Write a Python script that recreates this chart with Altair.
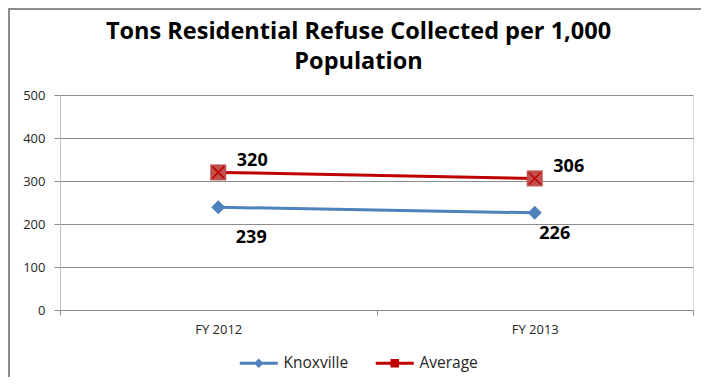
import altair as alt
import pandas as pd

categories = ["FY 2012", "FY 2013"]
knoxville = [239, 226]
average = [320, 306]
series_names = ["Knoxville", "Average"]
y_ticks = [0, 100, 200, 300, 400, 500]

rows = []
for i, c in enumerate(categories):
    rows.append({"year": c, "series": "Knoxville", "value": knoxville[i], "label": str(knoxville[i])})
    rows.append({"year": c, "series": "Average", "value": average[i], "label": str(average[i])})
df = pd.DataFrame(rows)

FONT = "Open Sans"
BLUE = "#4F81BD"
RED_LINE = "#C00000"
RED_FILL = "#C0504D"
GRID = "#8C8C8C"

x_enc = alt.X(
    "year:N", sort=categories, title=None,
    scale=alt.Scale(type="band", paddingInner=0, paddingOuter=0),
    axis=alt.Axis(tickBand="extent", labelFont=FONT, labelFontSize=13, labelColor="#262626",
                  labelPadding=8, domainColor=GRID, tickColor=GRID, tickSize=5, labelAngle=0),
)
y_enc = alt.Y(
    "value:Q", title=None,
    scale=alt.Scale(domain=[0, 500], nice=False),
    axis=alt.Axis(values=y_ticks, grid=True, gridColor=GRID, gridWidth=1, tickColor=GRID, tickSize=6,
                  domainColor="#BFBFBF", labelFont=FONT, labelFontSize=13, labelColor="#262626",
                  labelPadding=9),
)

base = alt.Chart(df)
knox = base.transform_filter(alt.datum.series == "Knoxville")
avg = base.transform_filter(alt.datum.series == "Average")

knox_line = knox.mark_line(color=BLUE, strokeWidth=3).encode(x=x_enc, y=y_enc)
avg_line = avg.mark_line(color=RED_LINE, strokeWidth=3).encode(x=x_enc, y=y_enc)
knox_pts = knox.mark_point(shape="diamond", filled=True, size=196, color=BLUE, opacity=1).encode(x=x_enc, y=y_enc)
avg_pts = avg.mark_point(shape="square", filled=True, size=256, color=RED_FILL, opacity=1).encode(x=x_enc, y=y_enc)
avg_x = avg.mark_point(shape="M-0.75,-0.75L0.75,0.75M0.75,-0.75L-0.75,0.75", filled=False, size=256,
                       color=RED_LINE, strokeWidth=1.5, opacity=1).encode(x=x_enc, y=y_enc)

def lab(data, dx, dy):
    return data.mark_text(font=FONT, fontSize=18, fontWeight="bold", color="black",
                          dx=dx, dy=dy, align="center", baseline="middle").encode(
        x=x_enc, y=y_enc, text="label:N")

avg_labels = lab(avg, 34, -11)
k1 = lab(knox.transform_filter(alt.datum.year == categories[0]), 33, 31)
k2 = lab(knox.transform_filter(alt.datum.year == categories[1]), 20, 21)

path_k = "M-3.8,-0.3H3.8V0.3H-3.8ZM0,-0.95L0.95,0L0,0.95L-0.95,0Z"
path_a = "M-3.8,-0.3H3.8V0.3H-3.8ZM-0.85,-0.85H0.85V0.85H-0.85Z"
leg = dict(title=None, orient="none", direction="horizontal",
           legendX=191, legendY=260, symbolOpacity=1, symbolSize=100,
           symbolStrokeWidth=0, labelOffset=17, columnPadding=26,
           labelFont=FONT, labelFontSize=15.5, labelColor="#262626", padding=0)
legend_layer = base.mark_point(filled=True, opacity=0).encode(
    x=x_enc, y=y_enc,
    color=alt.Color("series:N", scale=alt.Scale(domain=series_names, range=[BLUE, RED_LINE]),
                    legend=alt.Legend(**leg)),
    shape=alt.Shape("series:N", scale=alt.Scale(domain=series_names, range=[path_k, path_a]),
                    legend=alt.Legend(**leg)),
)

border_left = alt.Chart(df).mark_rule(color="#8C8C8C", strokeWidth=2).encode(
    x=alt.value(-51), y=alt.value(-87), y2=alt.value(282))
border_top = alt.Chart(df).mark_rule(color="#8C8C8C", strokeWidth=2).encode(
    x=alt.value(-52), x2=alt.value(641), y=alt.value(-86))

chart = alt.layer(
    border_left, border_top,
    knox_line, avg_line, knox_pts, avg_pts, avg_x,
    avg_labels, k1, k2, legend_layer,
).properties(
    width=633, height=215,
    padding={"left": 52, "top": 87, "right": 8, "bottom": 67},
    autosize=alt.AutoSizeParams(type="none"),
    title=alt.TitleParams(
        text=["Tons Residential Refuse Collected per 1,000", "Population"],
        font=FONT, fontSize=23.5, fontWeight="bold", color="black",
        anchor="middle", frame="group", dx=-18, dy=90, offset=24, lineHeight=30,
    ),
).configure_view(stroke=None).configure(background="white")

chart.save("out.html", embed_options={"renderer": "svg", "actions": False})
